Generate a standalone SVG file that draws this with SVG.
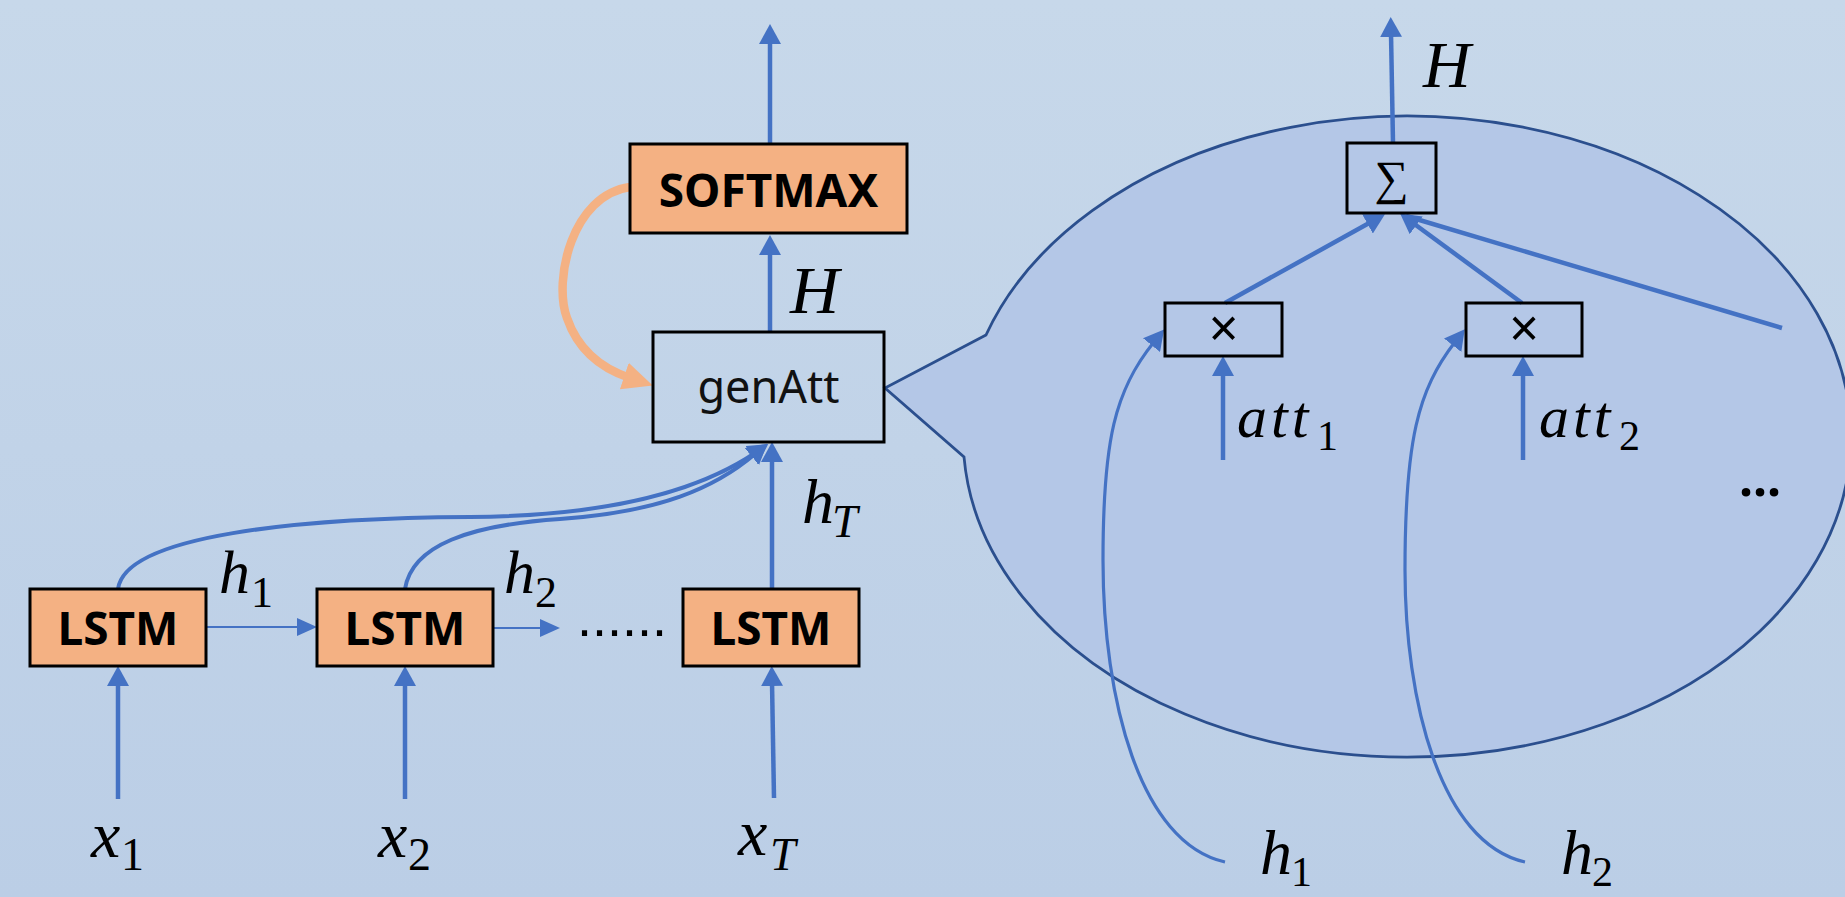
<svg xmlns="http://www.w3.org/2000/svg" width="1845" height="897" viewBox="0 0 1845 897">
  <defs>
    <linearGradient id="bg" x1="0" y1="0" x2="0" y2="1">
      <stop offset="0" stop-color="#c7d8ea"/>
      <stop offset="1" stop-color="#bbcee6"/>
    </linearGradient>
    <!-- blue arrowhead, tip sits 16px past the path end -->
    <marker id="ah" viewBox="0 0 20 22" markerWidth="20" markerHeight="22" refX="4" refY="11" orient="auto" markerUnits="userSpaceOnUse">
      <path d="M0,0 L20,11 L0,22 z" fill="#4472c4"/>
    </marker>
    <!-- small arrowhead for the thin recurrent links -->
    <marker id="ahs" viewBox="0 0 20 18" markerWidth="20" markerHeight="18" refX="4" refY="9" orient="auto" markerUnits="userSpaceOnUse">
      <path d="M0,0 L20,9 L0,18 z" fill="#4472c4"/>
    </marker>
    <!-- orange feedback arrowhead, tip 24px past the path end -->
    <marker id="aho" viewBox="0 0 30 28" markerWidth="30" markerHeight="28" refX="6" refY="14" orient="auto" markerUnits="userSpaceOnUse">
      <path d="M0,0 L30,14 L0,28 z" fill="#f4b183"/>
    </marker>
    <style>
      .box { stroke: #000; stroke-width: 3; }
      .orange { fill: #f4b183; }
      .plain { fill: none; }
      .lbl-b { font-family: "Noto Sans", "Liberation Sans", sans-serif; font-weight: bold; font-size: 46px; fill: #000; text-anchor: middle; }
      .lbl { font-family: "Noto Sans", "Liberation Sans", sans-serif; font-size: 45px; fill: #111; text-anchor: middle; }
      .m { font-family: "Liberation Serif", "DejaVu Serif", serif; font-style: italic; fill: #000; }
      .s { font-family: "Liberation Serif", "DejaVu Serif", serif; fill: #000; }
      .si { font-family: "Liberation Serif", "DejaVu Serif", serif; font-style: italic; fill: #000; }
      .wire { fill: none; stroke: #4472c4; stroke-width: 4.5; }
      .thin { fill: none; stroke: #4472c4; stroke-width: 1.8; }
      .curve { fill: none; stroke: #4472c4; stroke-width: 4; }
      .fine { fill: none; stroke: #4472c4; stroke-width: 3.2; }
    </style>
  </defs>

  <rect x="0" y="0" width="1845" height="897" fill="url(#bg)"/>

  <!-- zoomed view of genAtt: ellipse callout -->
  <g id="callout">
    <path d="M986,335 L885,388 L964,457 A444,320.5 0 1 0 986,335 Z" fill="#b4c7e7" stroke="#2b4f8e" stroke-width="2.8" stroke-linejoin="miter"/>
  </g>

  <!-- connectors -->
  <g id="connectors">
    <!-- inputs into the LSTM cells -->
    <path class="wire" d="M118,799 V682" marker-end="url(#ah)"/>
    <path class="wire" d="M405,799 V682" marker-end="url(#ah)"/>
    <path class="wire" d="M774,798 L772,682" marker-end="url(#ah)"/>
    <!-- recurrent links -->
    <path class="thin" d="M206,627 H301" marker-end="url(#ahs)"/>
    <path class="thin" d="M493,628 H544" marker-end="url(#ahs)"/>
    <!-- hidden states into genAtt -->
    <path class="wire" d="M772,589 V458" marker-end="url(#ah)"/>
    <path class="curve" d="M118,589 C125,535 300,518 470,517 C610,516 700,490 755,453" marker-end="url(#ah)"/>
    <path class="curve" d="M405,589 C412,545 470,525 560,519 C660,512 715,488 755,454" marker-end="url(#ah)"/>
    <!-- genAtt to softmax and output -->
    <path class="wire" d="M770,332 V251" marker-end="url(#ah)"/>
    <path class="wire" d="M770,144 V40" marker-end="url(#ah)"/>
    <!-- softmax feedback into genAtt -->
    <path fill="none" stroke="#f4b183" stroke-width="8.5" d="M630,187 C572,195 553,280 567,318 C578,350 600,368 630,378" marker-end="url(#aho)"/>

    <!-- inside the callout -->
    <path class="wire" stroke-width="4" d="M1393,143 L1391,33" marker-end="url(#ah)"/>
    <path class="wire" stroke-width="4" d="M1225,303 L1371,222" marker-end="url(#ah)"/>
    <path class="wire" stroke-width="4" d="M1522,303 L1413,223" marker-end="url(#ah)"/>
    <path class="wire" stroke-width="5" d="M1782,328 L1406,216"/>
    <path class="wire" stroke-width="4" d="M1223,460 V372" marker-end="url(#ah)"/>
    <path class="wire" stroke-width="4" d="M1523,460 V372" marker-end="url(#ah)"/>
    <path class="fine" d="M1225,862 C1140,843 1103,700 1103,560 C1103,440 1115,390 1154,342" marker-end="url(#ah)"/>
    <path class="fine" d="M1525,862 C1440,843 1405,700 1405,570 C1405,440 1418,390 1455,342" marker-end="url(#ah)"/>
  </g>

  <!-- LSTM chain -->
  <g id="lstm1">
    <rect class="box orange" x="30" y="589" width="176" height="77"/>
    <text class="lbl-b" x="118" y="645">LSTM</text>
  </g>
  <g id="lstm2">
    <rect class="box orange" x="317" y="589" width="176" height="77"/>
    <text class="lbl-b" x="405" y="645">LSTM</text>
  </g>
  <g id="lstmT">
    <rect class="box orange" x="683" y="589" width="176" height="77"/>
    <text class="lbl-b" x="771" y="645">LSTM</text>
  </g>
  <g id="ellipsis-chain">
    <text x="577" y="636" font-family="Liberation Sans, sans-serif" font-size="54" fill="#000">......</text>
  </g>

  <g id="genAtt">
    <rect class="box plain" x="653" y="332" width="231" height="110"/>
    <text class="lbl" x="768.5" y="403">genAtt</text>
  </g>
  <g id="softmax">
    <rect class="box orange" x="630" y="144" width="277" height="89"/>
    <text class="lbl-b" x="768.5" y="207">SOFTMAX</text>
  </g>

  <!-- math labels, left half -->
  <g id="labels-left">
    <text class="m" x="91" y="857" font-size="66">x</text><text class="s" x="121" y="870" font-size="46">1</text>
    <text class="m" x="378" y="857" font-size="66">x</text><text class="s" x="408" y="870" font-size="46">2</text>
    <text class="m" x="738" y="855" font-size="66">x</text><text class="si" x="770" y="870" font-size="46">T</text>
    <text class="m" x="219" y="593" font-size="62">h</text><text class="s" x="251" y="607" font-size="44">1</text>
    <text class="m" x="504" y="593" font-size="62">h</text><text class="s" x="535" y="607" font-size="44">2</text>
    <text class="m" x="802" y="523" font-size="64">h</text><text class="si" x="832" y="537" font-size="46">T</text>
    <text class="m" x="790" y="313" font-size="68">H</text>
  </g>

  <!-- weighted-sum detail -->
  <g id="sum">
    <rect class="box plain" x="1347" y="143" width="89" height="70"/>
    <text x="1391.5" y="194" font-family="Liberation Serif, DejaVu Serif, serif" font-size="48" text-anchor="middle" fill="#000">∑</text>
  </g>
  <g id="mul1">
    <rect class="box plain" x="1165" y="303" width="117" height="53"/>
    <text x="1223.5" y="347" font-family="Noto Sans, sans-serif" font-size="52" text-anchor="middle" fill="#000">×</text>
  </g>
  <g id="mul2">
    <rect class="box plain" x="1466" y="303" width="116" height="53"/>
    <text x="1524" y="347" font-family="Noto Sans, sans-serif" font-size="52" text-anchor="middle" fill="#000">×</text>
  </g>
  <g id="labels-right">
    <text class="m" x="1423" y="87" font-size="66">H</text>
    <text class="m" x="1237" y="437" font-size="60" letter-spacing="4">att</text><text class="s" x="1317" y="450" font-size="42">1</text>
    <text class="m" x="1539" y="437" font-size="60" letter-spacing="4">att</text><text class="s" x="1619" y="450" font-size="42">2</text>
    <text class="m" x="1260" y="874" font-size="64">h</text><text class="s" x="1291" y="886" font-size="42">1</text>
    <text class="m" x="1561" y="874" font-size="64">h</text><text class="s" x="1592" y="886" font-size="42">2</text>
    <text x="1739" y="496" font-family="Noto Sans, sans-serif" font-weight="bold" font-size="50" fill="#000">...</text>
  </g>
</svg>
